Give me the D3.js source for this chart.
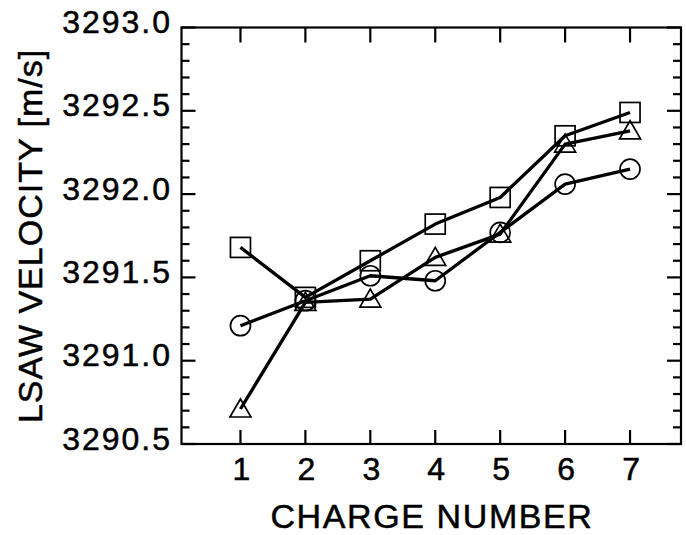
<!DOCTYPE html>
<html>
<head>
<meta charset="utf-8">
<script src="https://cdn.jsdelivr.net/npm/d3@7"></script>
<style>
  html, body { margin: 0; padding: 0; background: #fff; }
  svg { display: block; }
  text { font-family: "Liberation Sans", Arial, Helvetica, sans-serif; fill: #000; stroke: #000; stroke-width: 0.5px; }
</style>
</head>
<body>
<svg id="chart" width="686" height="535"></svg>
<script>
// ---- data ----
const charges = [1, 2, 3, 4, 5, 6, 7];
const squares   = [3291.68, 3291.38, 3291.60, 3291.82, 3291.98, 3292.35, 3292.49];
const circles   = [3291.21, 3291.36, 3291.51, 3291.48, 3291.77, 3292.06, 3292.15];
const triangles = [3290.71, 3291.35, 3291.37, 3291.62, 3291.76, 3292.30, 3292.38];
const yTicks = [3290.5, 3291.0, 3291.5, 3292.0, 3292.5, 3293.0];
const xTickLabels = ["1", "2", "3", "4", "5", "6", "7"];
const xTitle = "CHARGE NUMBER";
const yTitle = "LSAW VELOCITY [m/s]";

// ---- layout ----
const svg = d3.select("#chart");
const L = 181.5, R = 681, T = 27.5, B = 444;

const x = d3.scaleLinear().domain([0.092, 7.785]).range([L, R]);
const y = d3.scaleLinear().domain([3290.5, 3293.0]).range([B, T]);

const minorY = d3.range(3290.5, 3293.0001, 0.1).map(v => +v.toFixed(2));

// frame
svg.append("rect")
  .attr("x", L).attr("y", T).attr("width", R - L).attr("height", B - T)
  .attr("fill", "none").attr("stroke", "#000").attr("stroke-width", 2.2);

// y ticks (left and right, inward)
const isMajor = v => yTicks.some(t => Math.abs(t - v) < 1e-6);
minorY.forEach(v => {
  const len = isMajor(v) ? 14 : 8;
  svg.append("line").attr("x1", L).attr("x2", L + len)
    .attr("y1", y(v)).attr("y2", y(v)).attr("stroke", "#000").attr("stroke-width", 2.2);
  svg.append("line").attr("x1", R).attr("x2", R - len)
    .attr("y1", y(v)).attr("y2", y(v)).attr("stroke", "#000").attr("stroke-width", 2.2);
});

// x ticks (bottom and top, inward)
charges.forEach(c => {
  svg.append("line").attr("x1", x(c)).attr("x2", x(c))
    .attr("y1", B).attr("y2", B - 14).attr("stroke", "#000").attr("stroke-width", 2.2);
  svg.append("line").attr("x1", x(c)).attr("x2", x(c))
    .attr("y1", T).attr("y2", T + 15).attr("stroke", "#000").attr("stroke-width", 2.2);
});

// y tick labels
yTicks.forEach(v => {
  svg.append("text")
    .attr("x", 172).attr("y", y(v) + 5.5)
    .attr("text-anchor", "end")
    .style("font-size", "32px")
    .style("letter-spacing", "2px")
    .text(v.toFixed(1));
});

// x tick labels
charges.forEach((c, i) => {
  svg.append("text")
    .attr("x", x(c) + 1).attr("y", 480)
    .attr("text-anchor", "middle")
    .style("font-size", "32px")
    .text(xTickLabels[i]);
});

// axis titles
svg.append("text")
  .attr("x", 432).attr("y", 528)
  .attr("text-anchor", "middle")
  .style("font-size", "34px")
  .style("letter-spacing", "1.6px")
  .text(xTitle);

svg.append("text")
  .attr("transform", "translate(42,236) rotate(-90)")
  .attr("text-anchor", "middle")
  .style("font-size", "34px")
  .style("letter-spacing", "1px")
  .text(yTitle);

// series
const line = d3.line().x((d, i) => x(charges[i])).y(d => y(d));
const series = [
  { values: squares, marker: "square" },
  { values: circles, marker: "circle" },
  { values: triangles, marker: "triangle" }
];

series.forEach(s => {
  svg.append("path").datum(s.values)
    .attr("d", line)
    .attr("fill", "none").attr("stroke", "#000").attr("stroke-width", 3.3)
    .attr("stroke-linejoin", "round");
});

series.forEach(s => {
  s.values.forEach((v, i) => {
    const cx = x(charges[i]), cy = y(v);
    if (s.marker === "square") {
      svg.append("rect").attr("x", cx - 10).attr("y", cy - 10)
        .attr("width", 20).attr("height", 20)
        .attr("fill", "none").attr("stroke", "#000").attr("stroke-width", 1.7);
    } else if (s.marker === "circle") {
      svg.append("circle").attr("cx", cx).attr("cy", cy).attr("r", 10)
        .attr("fill", "none").attr("stroke", "#000").attr("stroke-width", 1.7);
    } else {
      const pts = [[cx, cy - 10], [cx + 10.5, cy + 8], [cx - 10.5, cy + 8]];
      svg.append("path").attr("d", "M" + pts.map(p => p.join(",")).join("L") + "Z")
        .attr("fill", "none").attr("stroke", "#000").attr("stroke-width", 1.7);
    }
  });
});
</script>
</body>
</html>
